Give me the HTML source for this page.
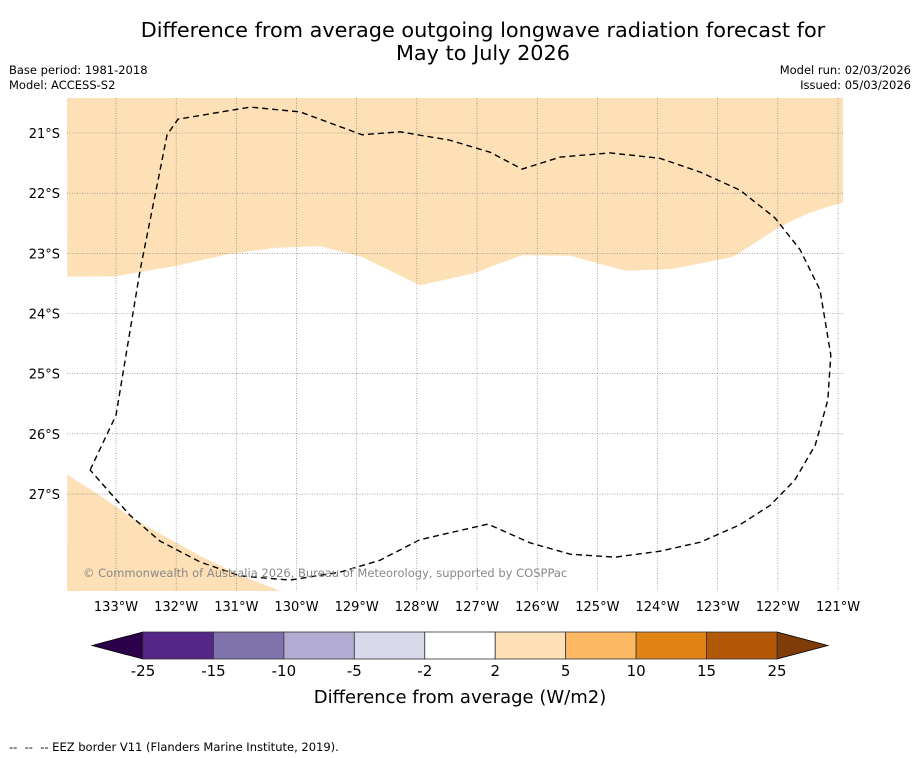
<!DOCTYPE html>
<html><head><meta charset="utf-8"><style>
body{margin:0;background:#fff;font-family:"Liberation Sans","DejaVu Sans",sans-serif;}
#wrap{position:relative;width:919px;height:758px;overflow:hidden;background:#fff}
.t{position:absolute;white-space:nowrap}
</style></head><body>
<div id="wrap">
<div class="t" style="left:0;width:966px;top:19px;text-align:center;font-family:'DejaVu Sans',sans-serif;font-size:20.8px;line-height:23px">Difference from average outgoing longwave radiation forecast for<br>May to July 2026</div>
<div class="t" style="left:9px;top:63px;font-family:'DejaVu Sans',sans-serif;font-size:11.5px;line-height:15px">Base period: 1981-2018<br>Model: ACCESS-S2</div>
<div class="t" style="right:8px;top:63px;text-align:right;font-family:'DejaVu Sans',sans-serif;font-size:11.5px;line-height:15px">Model run: 02/03/2026<br>Issued: 05/03/2026</div>
<svg id="map" width="919" height="758" style="position:absolute;left:0;top:0"></svg>
<div class="t" style="left:9px;top:740px;font-family:'DejaVu Sans',sans-serif;font-size:11.5px">--&nbsp; --&nbsp; -- EEZ border V11 (Flanders Marine Institute, 2019).</div>
</div>
<script>
const lonTicks=[-133,-132,-131,-130,-129,-128,-127,-126,-125,-124,-123,-122,-121];
const latTicks=[21,22,23,24,25,26,27];
const cbLevels=[-25,-15,-10,-5,-2,2,5,10,15,25];
const cbColors=["#542788","#8073ac","#b2abd2","#d8daeb","#ffffff","#fee0b6","#fdb863","#e08214","#b35806"];
const shadeTopLon=[-133.81,-133,-132.02,-131.11,-130.36,-129.61,-128.91,-127.95,-127.08,-126.25,-125.45,-124.54,-123.76,-122.75,-121.95,-121.53,-121.12,-120.92];
const shadeTopLat=[23.39,23.38,23.21,23.01,22.91,22.88,23.06,23.53,23.34,23.03,23.04,23.29,23.26,23.06,22.55,22.35,22.21,22.16];
const shadeBotLon=[-133.81,-133.35,-132.68,-131.6,-130.94,-130.27];
const shadeBotLat=[26.68,26.97,27.43,28.03,28.35,28.61];
const eezLon=[-133.43,-133,-132.6,-132.15,-131.97,-130.77,-129.94,-128.91,-128.28,-127.45,-126.78,-126.25,-125.62,-124.79,-123.96,-123.29,-122.63,-122.05,-121.63,-121.3,-121.12,-121.17,-121.38,-121.72,-122.13,-122.63,-123.29,-123.96,-124.71,-125.45,-126.12,-126.82,-127.95,-128.61,-129.28,-130.11,-130.94,-131.6,-132.27,-132.77,-133.43];
const eezLat=[26.6,25.69,23.28,21.03,20.77,20.57,20.65,21.03,20.98,21.12,21.32,21.6,21.4,21.33,21.42,21.65,21.95,22.41,22.94,23.61,24.69,25.44,26.19,26.77,27.19,27.51,27.8,27.95,28.05,28,27.81,27.5,27.76,28.1,28.3,28.43,28.36,28.13,27.78,27.35,26.6];

const S=60.17, X0=67,X1=843,Y0=98,Y1=591;
const xOf=lon=>116+(lon+133)*S;
const yOf=lat=>133+(lat-21)*S;
const svg=document.getElementById('map');
const NS="http://www.w3.org/2000/svg";
function mk(tag,attrs,parent){const e=document.createElementNS(NS,tag);for(const k in attrs)e.setAttribute(k,attrs[k]);(parent||svg).appendChild(e);return e;}
const defs=mk('defs',{});const cp=mk('clipPath',{id:'cp'},defs);mk('rect',{x:X0,y:Y0,width:X1-X0,height:Y1-Y0},cp);
const g=mk('g',{'clip-path':'url(#cp)'});
let p="M"+X0+","+Y0+" L"+X1+","+Y0;
for(let i=shadeTopLon.length-1;i>=0;i--)p+=" L"+xOf(shadeTopLon[i]).toFixed(1)+","+yOf(shadeTopLat[i]).toFixed(1);
const topShade=mk('path',{d:p+"Z",fill:"#fde0b6",stroke:"none"},g);


let p2="";shadeBotLon.forEach((v,i)=>{p2+=(i?" L":"M")+xOf(v).toFixed(1)+","+yOf(shadeBotLat[i]).toFixed(1);});
p2+=" L"+X0+","+Y1+"Z";
const botShade=mk('path',{d:p2,fill:"#fde0b6",stroke:"none"},g);


lonTicks.forEach(v=>{const x=xOf(v);
 const l=mk('line',{x1:x,x2:x,y1:Y0,y2:Y1,stroke:"#777","stroke-width":0.6,"stroke-dasharray":"1,1.5"},g);
 
 
 const t=mk('text',{x:x,y:611,"text-anchor":"middle","font-size":13,"font-family":"DejaVu Sans, sans-serif"});t.textContent=Math.abs(v)+"°W";
 
 });
latTicks.forEach(v=>{const y=yOf(v);
 const l=mk('line',{x1:X0,x2:X1,y1:y,y2:y,stroke:"#777","stroke-width":0.6,"stroke-dasharray":"1,1.5"},g);
 
 
 const t=mk('text',{x:60,y:y+5,"text-anchor":"end","font-size":13,"font-family":"DejaVu Sans, sans-serif"});t.textContent=v+"°S";
 
 });
let p3="";eezLon.forEach((v,i)=>{p3+=(i?" L":"M")+xOf(v).toFixed(1)+","+yOf(eezLat[i]).toFixed(1);});
const eez=mk('path',{d:p3,fill:"none",stroke:"#000","stroke-width":1.4,"stroke-dasharray":"6,4"},g);


const cr=mk('text',{x:83,y:577,"font-size":11.5,fill:"#888","font-family":"DejaVu Sans, sans-serif"});cr.textContent="© Commonwealth of Australia 2026, Bureau of Meteorology, supported by COSPPac";


const cbX0=143,cbX1=777,cbY=632,cbH=27;const step=(cbX1-cbX0)/(cbLevels.length-1);
const lt=mk('polygon',{points:`92,645.5 ${cbX0},${cbY} ${cbX0},${cbY+cbH}`,fill:"#2d004b",stroke:"#000","stroke-width":0.8});


const rt=mk('polygon',{points:`828,645.5 ${cbX1},${cbY} ${cbX1},${cbY+cbH}`,fill:"#7f3b08",stroke:"#000","stroke-width":0.8});


cbColors.forEach((c,i)=>{const r=mk('rect',{x:cbX0+i*step,y:cbY,width:step,height:cbH,fill:c,stroke:"#333","stroke-width":0.8});
 
 });
cbLevels.forEach((v,i)=>{const t=mk('text',{x:cbX0+i*step,y:676,"text-anchor":"middle","font-size":15,"font-family":"DejaVu Sans, sans-serif"});t.textContent=v;
 
 });
const ct=mk('text',{x:460,y:703,"text-anchor":"middle","font-size":18,"font-family":"DejaVu Sans, sans-serif"});ct.textContent="Difference from average (W/m2)";


</script>
</body></html>
